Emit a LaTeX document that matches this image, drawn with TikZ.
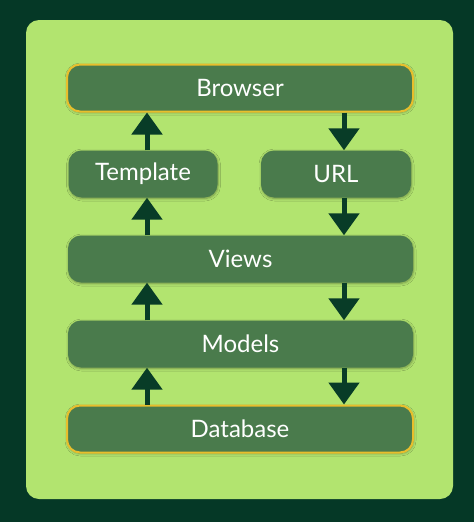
\documentclass[tikz,border=0pt]{standalone}
\usepackage{fontspec}
\setmainfont{Lato}
\usetikzlibrary{arrows.meta,shadows.blur}
\definecolor{bgdark}{HTML}{053826}
\definecolor{panel}{HTML}{B2E46F}
\definecolor{boxfill}{HTML}{4A7B4C}
\definecolor{gold}{HTML}{E8BE2C}
\definecolor{arrowc}{HTML}{083C27}
\tikzset{
  layer/.style={fill=boxfill, rounded corners=13pt, inner sep=0pt,
    text=white, font=\fontsize{24}{28}\selectfont,
    blur shadow={shadow blur steps=6, shadow xshift=0.5pt, shadow yshift=-1pt, shadow opacity=35, shadow blur radius=2.5pt}},
  endpoint/.style={layer, draw=gold, line width=2pt},
  flow/.style={draw=arrowc, line width=5pt, -{Triangle[width=30pt,length=22pt]}, shorten >=0pt},
}
\begin{document}
\begin{tikzpicture}[x=1pt,y=-1pt]
\useasboundingbox (0,0) rectangle (474,522);
\fill[bgdark] (0,0) rectangle (474,522);
\fill[panel, rounded corners=13pt] (26,20) rectangle (453,499);
\node[endpoint, minimum width=346pt, minimum height=47pt] (browser) at (240,88) {Browser};
\node[layer, minimum width=149pt, minimum height=47pt] (template) at (143,174) {Template};
\node[layer, minimum width=150pt, minimum height=47pt] (url) at (336,174) {URL};
\node[layer, minimum width=345pt, minimum height=47pt] (views) at (240.5,259) {Views};
\node[layer, minimum width=345pt, minimum height=47pt] (models) at (240.5,344) {Models};
\node[endpoint, minimum width=346pt, minimum height=47pt] (database) at (240,429) {Database};
\coordinate (lx) at (147,0);
\coordinate (rx) at (344,0);
\draw[flow] (lx |- template.north) -- (lx |- browser.south);
\draw[flow] (lx |- views.north) -- (lx |- template.south);
\draw[flow] (lx |- models.north) -- (lx |- views.south);
\draw[flow] (lx |- database.north) -- (lx |- models.south);
\draw[flow] (rx |- browser.south) -- (rx |- url.north);
\draw[flow] (rx |- url.south) -- (rx |- views.north);
\draw[flow] (rx |- views.south) -- (rx |- models.north);
\draw[flow] (rx |- models.south) -- (rx |- database.north);
\end{tikzpicture}
\end{document}
